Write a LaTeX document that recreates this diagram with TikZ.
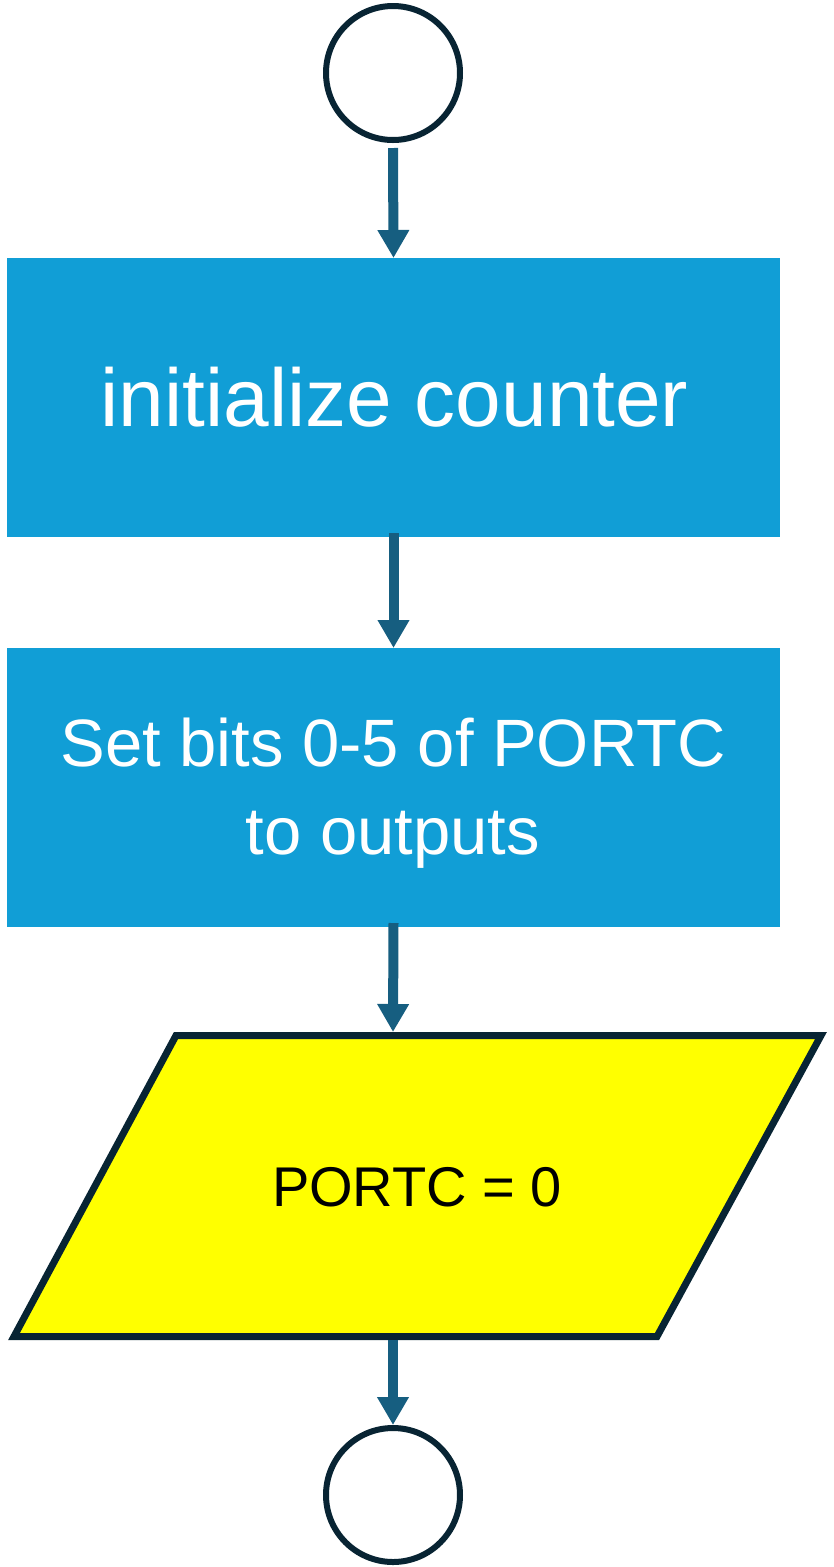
\documentclass[tikz,border=0pt]{standalone}
\usepackage{fontspec}
\setmainfont{Liberation Sans}
\usetikzlibrary{arrows.meta}
\definecolor{boxblue}{RGB}{17,158,214}
\definecolor{arrowblue}{RGB}{22,94,128}
\definecolor{darkline}{RGB}{8,36,51}
\definecolor{ioyellow}{RGB}{255,255,0}
\tikzset{
  terminal/.style={circle, draw=darkline, line width=6pt, fill=white, minimum size=134pt, inner sep=0pt},
  procbox/.style={rectangle, fill=boxblue, minimum width=773pt, minimum height=279pt, inner sep=0pt, outer sep=0pt, text=white, align=center},
  flowarrow/.style={draw=arrowblue, line width=10pt, -{Triangle[width=30pt,length=28pt]}},
  iobox/.style={draw=darkline, line width=7pt, fill=ioyellow, line join=miter}
}
\begin{document}
\begin{tikzpicture}[x=1pt,y=-1pt]
\useasboundingbox (0,0) rectangle (834,1567);
\node[terminal] (start) at (393,73) {};
\node[procbox] (init) at (393.5,397.5) {};
\node[font=\fontsize{82}{88}\selectfont, text=white] (initlabel) at (394.5,397.5) {initialize counter};
\node[procbox] (setbits) at (393.5,787.5) {};
\node[font=\fontsize{67}{88}\selectfont, text=white, align=center] (setlabel) at (393,793) {Set bits 0-5 of PORTC\\to outputs};
\path[iobox] (176,1035.5) -- (821,1035.5) -- (657,1336.5) -- (14,1336.5) -- cycle;
\node[font=\fontsize{56}{60}\selectfont, text=black] (portc) at (417,1187) {PORTC = 0};
\coordinate (iotop) at (393,1032);
\coordinate (iobot) at (393,1340);
\node[terminal] (stop) at (393,1495) {};
\draw[flowarrow] ([yshift=-5pt]start.south) -- (init.north);
\draw[flowarrow] ([yshift=4pt]init.south) -- (setbits.north);
\draw[flowarrow] ([yshift=4pt]setbits.south) -- (iotop);
\draw[flowarrow] (iobot) -- (stop.north);
\end{tikzpicture}
\end{document}
